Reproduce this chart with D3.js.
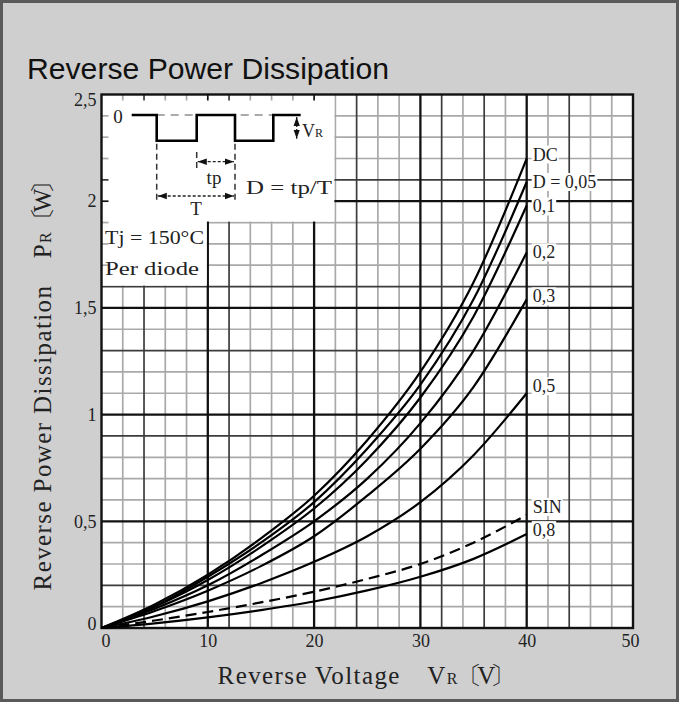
<!DOCTYPE html>
<html>
<head>
<meta charset="utf-8">
<script src="https://cdn.jsdelivr.net/npm/d3@7"></script>
<style>
  html, body { margin: 0; padding: 0; background: #cfcfcf; }
  svg { display: block; }
  .serif { font-family: "Liberation Serif", "DejaVu Serif", serif; fill: #222; }
</style>
</head>
<body>
<div id="chart"></div>
<script>
// Reverse power dissipation (W) vs reverse voltage (V), Tj = 150 °C, per diode
const voltage = [0, 5, 10, 15, 20, 25, 30, 35, 40];

const pDC   = [0, 0.11, 0.25, 0.42, 0.62, 0.88, 1.20, 1.62, 2.20];
const pD005 = [0, 0.10, 0.24, 0.40, 0.59, 0.84, 1.14, 1.54, 2.09];
const pD01  = [0, 0.10, 0.225, 0.38, 0.56, 0.79, 1.08, 1.46, 1.98];
const pD02  = [0, 0.09, 0.20, 0.34, 0.50, 0.70, 0.96, 1.30, 1.76];
const pD03  = [0, 0.08, 0.175, 0.29, 0.43, 0.62, 0.84, 1.13, 1.54];
const pD05  = [0, 0.055, 0.125, 0.21, 0.31, 0.43, 0.59, 0.81, 1.10];
const pSIN  = [0, 0.035, 0.075, 0.12, 0.17, 0.23, 0.30, 0.40, 0.53];
const pD08  = [0, 0.022, 0.05, 0.084, 0.124, 0.176, 0.24, 0.324, 0.44];

const seriesLabels = ["DC", "D = 0,05", "0,1", "0,2", "0,3", "0,5", "SIN", "0,8"];
const seriesValues = [pDC, pD005, pD01, pD02, pD03, pD05, pSIN, pD08];

const xTicks = [0, 10, 20, 30, 40, 50];
const yTicks = [0, 0.5, 1, 1.5, 2, 2.5];

const W = 679, H = 702;
const margin = { top: 94.5, right: 46, bottom: 74, left: 101.5 };
const comma = v => String(v).replace(".", ",");

const svg = d3.select("#chart").append("svg")
  .attr("width", W).attr("height", H);

// frame
svg.append("rect")
  .attr("x", 1.5).attr("y", 1.5).attr("width", W - 3).attr("height", H - 3)
  .attr("fill", "#cfcfcf").attr("stroke", "#5a5a5a").attr("stroke-width", 3);

svg.append("text")
  .attr("x", 27).attr("y", 79)
  .attr("font-family", "'Liberation Sans', Arial, sans-serif")
  .attr("font-size", 29).attr("fill", "#111")
  .attr("textLength", 362).attr("lengthAdjust", "spacingAndGlyphs")
  .text("Reverse Power Dissipation");

const x = d3.scaleLinear().domain([0, 50]).range([margin.left, W - margin.right]);
const y = d3.scaleLinear().domain([0, 2.5]).range([H - margin.bottom, margin.top]);

const plot = svg.append("g");

plot.append("rect")
  .attr("x", x(0)).attr("y", y(2.5))
  .attr("width", x(50) - x(0)).attr("height", y(0) - y(2.5))
  .attr("fill", "#fff");

// grid: every 2 V and every 0.1 W, with a few darker rulings
const xGrid = d3.range(2, 50, 2);
const yGrid = d3.range(1, 25).map(i => +(i / 10).toFixed(1));
const xDark = [4, 12, 24, 32, 36, 44];
const yDark = [0.2, 0.9, 1.3, 1.6, 2.1];

const tone = (v, major, dark) => {
  if (Math.abs(v / major - Math.round(v / major)) < 1e-6) return "major";
  return dark.some(d => Math.abs(d - v) < 1e-6) ? "dark" : "light";
};
const toneStyle = {
  light: { stroke: "#a9a9a9", width: 1.7 },
  dark:  { stroke: "#3c3c3c", width: 1.7 },
  major: { stroke: "#111",    width: 2.3 }
};

const gridG = plot.append("g");
const vLines = xGrid.map(v => ({ v, t: tone(v, 10, xDark) }));
const hLines = yGrid.map(v => ({ v, t: tone(v, 0.5, yDark) }));

["light", "dark", "major"].forEach(t => {
  gridG.selectAll(null).data(vLines.filter(d => d.t === t)).join("line")
    .attr("x1", d => x(d.v)).attr("x2", d => x(d.v))
    .attr("y1", y(0)).attr("y2", y(2.5))
    .attr("stroke", toneStyle[t].stroke).attr("stroke-width", toneStyle[t].width);
  gridG.selectAll(null).data(hLines.filter(d => d.t === t)).join("line")
    .attr("x1", x(0)).attr("x2", x(50))
    .attr("y1", d => y(d.v)).attr("y2", d => y(d.v))
    .attr("stroke", toneStyle[t].stroke).attr("stroke-width", toneStyle[t].width);
});

// white panel for the waveform sketch
const pad = 1;
plot.append("rect")
  .attr("x", x(0)).attr("y", y(2.5))
  .attr("width", x(22) - x(0) - pad).attr("height", y(1.9) - y(2.5) - pad)
  .attr("fill", "#fff");
plot.append("rect")
  .attr("x", x(0)).attr("y", y(2.5))
  .attr("width", x(10) - x(0) - pad).attr("height", y(1.6) - y(2.5) - pad)
  .attr("fill", "#fff");

// short ticks along the panel edges
plot.selectAll(null).data(yGrid.filter(v => v > 1.6)).join("line")
  .attr("x1", x(0)).attr("x2", x(0) + 7)
  .attr("y1", d => y(d)).attr("y2", d => y(d))
  .attr("stroke", d => toneStyle[tone(d, 0.5, yDark)].stroke).attr("stroke-width", 1.7);
plot.selectAll(null).data(xGrid.filter(v => v < 22)).join("line")
  .attr("x1", d => x(d)).attr("x2", d => x(d))
  .attr("y1", y(2.5)).attr("y2", y(2.5) + 6)
  .attr("stroke", d => toneStyle[tone(d, 10, xDark)].stroke).attr("stroke-width", 1.7);

plot.append("rect")
  .attr("x", x(0)).attr("y", y(2.5))
  .attr("width", x(50) - x(0)).attr("height", y(0) - y(2.5))
  .attr("fill", "none").attr("stroke", "#111").attr("stroke-width", 2.4);

// axes
const xAxis = svg.append("g")
  .attr("transform", `translate(0,${y(0)})`)
  .call(d3.axisBottom(x).tickValues(xTicks).tickSize(0).tickPadding(6).tickFormat(comma));
const yAxis = svg.append("g")
  .attr("transform", `translate(${x(0)},0)`)
  .call(d3.axisLeft(y).tickValues(yTicks).tickSize(0).tickPadding(5).tickFormat(comma));
[xAxis, yAxis].forEach(g => {
  g.select(".domain").remove();
  g.selectAll("text")
    .attr("font-family", "'Liberation Serif', 'DejaVu Serif', serif")
    .attr("font-size", 18).attr("fill", "#222");
});
xAxis.selectAll(".tick text").filter(d => d === 0).attr("dx", 4);
xAxis.selectAll(".tick text").filter(d => d === 50).attr("dx", -3);
yAxis.selectAll(".tick text").filter(d => d === 2.5).attr("dy", "0.62em");
yAxis.selectAll(".tick text").filter(d => d === 0).attr("dy", "0.1em");

// axis titles, unit in tortoise-shell brackets
const axisTitle = (t, main, sym, unit) => {
  t.append("tspan").text(main + "\u2003" + sym);
  t.append("tspan").attr("font-size", 16).attr("letter-spacing", 0).text("R");
  t.append("tspan").attr("letter-spacing", -5).text("\u3014" + unit + "\u3015");
};

svg.append("text").attr("class", "serif")
  .attr("x", 364).attr("y", 684).attr("text-anchor", "middle")
  .attr("font-size", 25).attr("letter-spacing", 1.4)
  .call(t => axisTitle(t, "Reverse Voltage", "V", "V"));

svg.append("text").attr("class", "serif")
  .attr("transform", `translate(51,382) rotate(-90)`)
  .attr("text-anchor", "middle").attr("font-size", 25).attr("letter-spacing", 1.4)
  .call(t => axisTitle(t, "Reverse Power Dissipation", "P", "W"));

// curves
const line = d3.line()
  .x((d, i) => x(voltage[i]))
  .y(d => y(d))
  .curve(d3.curveMonotoneX);

plot.selectAll(".curve").data(seriesValues).join("path")
  .attr("class", "curve")
  .attr("d", line)
  .attr("fill", "none").attr("stroke", "#000").attr("stroke-width", 2.2)
  .attr("stroke-dasharray", (d, i) => seriesLabels[i] === "SIN" ? "11,6" : null);

// end labels on white patches
const nudge = { "DC": 2, "D = 0,05": 6, "0,1": 7, "0,2": 6, "0,3": 3, "0,5": -1, "SIN": -2, "0,8": 2 };
const labG = plot.append("g");
seriesValues.forEach((vals, i) => {
  const name = seriesLabels[i];
  const ly = y(vals[vals.length - 1]) + nudge[name];
  const t = labG.append("text").attr("class", "serif")
    .attr("x", x(40) + 6).attr("y", ly)
    .attr("font-size", 18).text(name);
  const b = t.node().getBBox();
  labG.insert("rect", "text")
    .attr("x", b.x - 1).attr("y", b.y + 1)
    .attr("width", b.width + 2).attr("height", b.height - 2)
    .attr("fill", "#fff");
});

// waveform sketch: reverse voltage pulse train, duty cycle D = tp/T
const sk = svg.append("g").attr("class", "serif");
const defs = svg.append("defs");
defs.append("marker").attr("id", "arr")
  .attr("viewBox", "0 0 10 10").attr("refX", 10).attr("refY", 5)
  .attr("markerWidth", 7).attr("markerHeight", 7).attr("orient", "auto-start-reverse")
  .append("path").attr("d", "M0,1.5 L10,5 L0,8.5 Z").attr("fill", "#111");

const hi = 115, lo = 140.7;
const xa = 131.7, xb = 156.7, xc = 196.7, xd = 235, xe = 273.3, xf = 300.7;

sk.append("line").attr("x1", xb).attr("x2", xe).attr("y1", hi).attr("y2", hi)
  .attr("stroke", "#aaa").attr("stroke-width", 2).attr("stroke-dasharray", "8,6");
sk.append("path")
  .attr("d", `M${xa},${hi}H${xb}V${lo}H${xc}V${hi}H${xd}V${lo}H${xe}V${hi}H${xf}`)
  .attr("fill", "none").attr("stroke", "#000").attr("stroke-width", 2.6);

const dashV = (xx, y1, y2) => sk.append("line")
  .attr("x1", xx).attr("x2", xx).attr("y1", y1).attr("y2", y2)
  .attr("stroke", "#333").attr("stroke-width", 1.5).attr("stroke-dasharray", "6,4");
dashV(xb, lo + 3, 200);
dashV(xc, 152, 168);
dashV(xd, lo + 3, 200);

const arrowH = (x1, x2, yy) => sk.append("line")
  .attr("x1", x1 + 1).attr("x2", x2 - 1).attr("y1", yy).attr("y2", yy)
  .attr("stroke", "#222").attr("stroke-width", 1.3).attr("stroke-dasharray", "3,2")
  .attr("marker-start", "url(#arr)").attr("marker-end", "url(#arr)");
arrowH(xc, xd, 161.7);
arrowH(xb, xd, 196);

sk.append("line").attr("x1", 296.7).attr("x2", 296.7).attr("y1", hi + 2).attr("y2", lo - 2)
  .attr("stroke", "#222").attr("stroke-width", 1.3).attr("stroke-dasharray", "2,2")
  .attr("marker-start", "url(#arr)").attr("marker-end", "url(#arr)");

sk.append("text").attr("x", 118).attr("y", 123).attr("text-anchor", "middle")
  .attr("font-size", 19).text("0");
sk.append("text").attr("x", 302).attr("y", 137).attr("font-size", 18)
  .call(t => { t.append("tspan").text("V"); t.append("tspan").attr("font-size", 12).text("R"); });
sk.append("text").attr("x", 214).attr("y", 184).attr("text-anchor", "middle")
  .attr("font-size", 19).text("tp");
sk.append("text").attr("x", 196).attr("y", 215).attr("text-anchor", "middle")
  .attr("font-size", 19).text("T");
sk.append("text").attr("x", 246).attr("y", 194).attr("font-size", 19)
  .attr("textLength", 86).attr("lengthAdjust", "spacingAndGlyphs").text("D = tp/T");
sk.append("text").attr("x", 105).attr("y", 244).attr("font-size", 18)
  .attr("textLength", 99).attr("lengthAdjust", "spacingAndGlyphs").text("Tj = 150°C");
sk.append("text").attr("x", 105).attr("y", 275).attr("font-size", 18)
  .attr("textLength", 94).attr("lengthAdjust", "spacingAndGlyphs").text("Per diode");
</script>
</body>
</html>
